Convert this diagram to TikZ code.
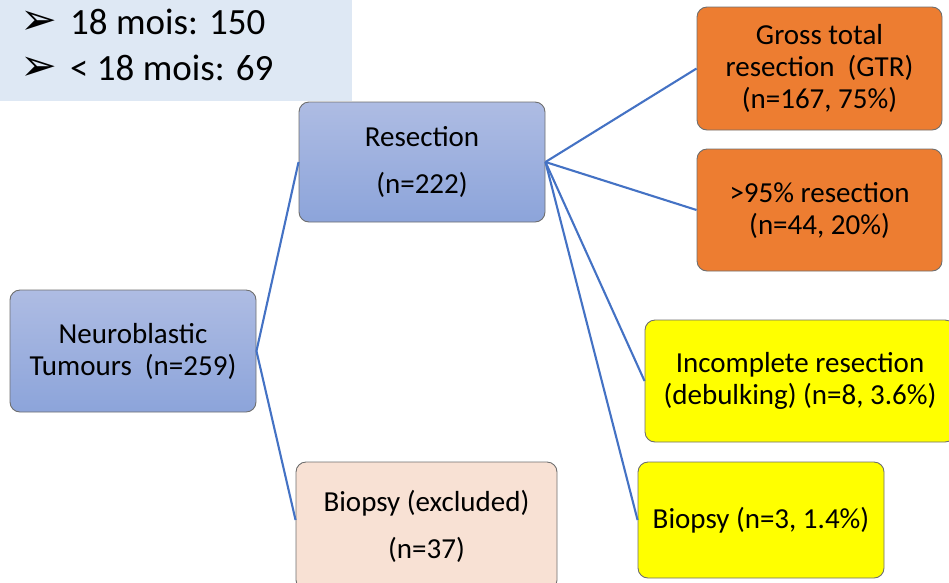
\documentclass[tikz,border=0pt]{standalone}
\usepackage{fontspec}
\setmainfont{Carlito}
\newfontfamily\symfont{DejaVu Sans}
\definecolor{noteblue}{HTML}{DEE8F4}
\definecolor{bluetop}{HTML}{AEBCE3}
\definecolor{bluebot}{HTML}{8CA4DA}
\definecolor{peach}{HTML}{F8E1D4}
\definecolor{orangefill}{HTML}{ED7D31}
\definecolor{yellowfill}{HTML}{FFFF00}
\definecolor{linkblue}{HTML}{4472C4}
\definecolor{edgegray}{HTML}{6E6E6E}
\begin{document}
\begin{tikzpicture}[x=1pt,y=-1pt,
  box/.style={draw=edgegray,line width=0.9pt,rounded corners=10pt,align=center,
    font=\fontsize{29}{32}\selectfont,inner sep=0pt},
  bluebox/.style={box,top color=bluetop,bottom color=bluebot},
  peachbox/.style={box,fill=peach},
  orangebox/.style={box,fill=orangefill},
  yellowbox/.style={box,fill=yellowfill},
  link/.style={draw=linkblue,line width=2.1pt},
  note/.style={anchor=west,inner sep=0pt,font=\fontsize{37}{40}\selectfont}]
\useasboundingbox (0,0) rectangle (949,582);
\clip (0,0) rectangle (949,582);

% note panel in the corner
\fill[noteblue] (0,0) rectangle (352,101);
\node[note] (n1) at (20,22) {\makebox[50pt][l]{\symfont\fontsize{44}{44}\selectfont ➢}18 mois: 150};
\node[note] (n2) at (20,68) {\makebox[50pt][l]{\symfont\fontsize{44}{44}\selectfont ➢}< 18 mois: 69};

% boxes
\node[bluebox,minimum width=246pt,minimum height=120pt] (res) at (422,162)
  {Resection\\[15pt](n=222)};
\node[bluebox,minimum width=246pt,minimum height=122pt] (neuro) at (133,351)
  {Neuroblastic\\Tumours\ \ (n=259)};
\node[peachbox,minimum width=261pt,minimum height=128pt] (bex) at (426.5,526)
  {Biopsy (excluded)\\[15pt](n=37)};
\node[orangebox,minimum width=245pt,minimum height=123pt] (gtr) at (819.5,68.5)
  {Gross total\\resection\ \ (GTR)\\(n=167, 75\%)};
\node[orangebox,minimum width=245pt,minimum height=122pt] (p95) at (819.5,210)
  {>95\% resection\\(n=44, 20\%)};
\node[yellowbox,minimum width=310pt,minimum height=122pt] (inc) at (800,381)
  {Incomplete resection\\(debulking) (n=8, 3.6\%)};
\node[yellowbox,minimum width=246pt,minimum height=116pt] (bio) at (761,520)
  {Biopsy (n=3, 1.4\%)};

% connectors
\draw[link] (neuro.east) -- (res.west);
\draw[link] (neuro.east) -- (bex.west |- bio.west);
\draw[link] (res.east) -- (gtr.west);
\draw[link] (res.east) -- (p95.west);
\draw[link] (res.east) -- (inc.west);
\draw[link] (res.east) -- (bio.west);
\end{tikzpicture}
\end{document}
